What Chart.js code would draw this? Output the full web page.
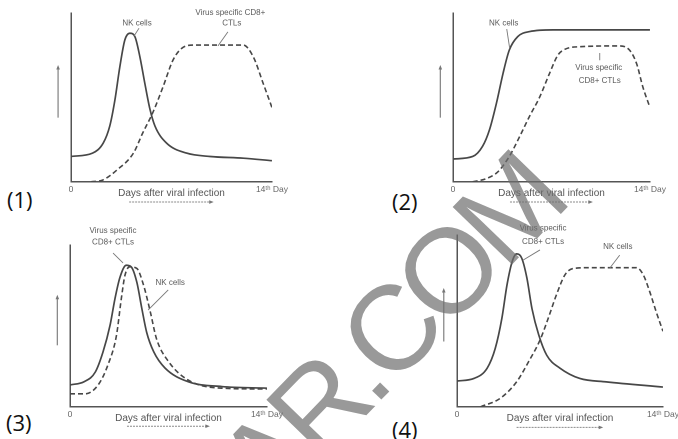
<!DOCTYPE html>
<html><head><meta charset="utf-8">
<script src="https://cdn.jsdelivr.net/npm/chart.js@4.4.1/dist/chart.umd.min.js"></script>
<style>
html,body{margin:0;padding:0;background:#fff;width:678px;height:439px;overflow:hidden;position:relative}
.panel{position:absolute}
.tag{position:absolute;font-family:"Open Sans","Liberation Sans",sans-serif;font-size:22px;color:#111;line-height:1;white-space:nowrap}
svg.wm{position:absolute;left:0;top:0;pointer-events:none}
</style></head><body>
<script>
// ---------- data (x = day, y = relative level 0-100) ----------
const xTickLabels = ['0', '14\u1D57\u02B0 Day'];
const xAxisTitle = 'Days after viral infection';
const panelNames = ['(1)', '(2)', '(3)', '(4)'];
const seriesNames = ['NK cells', 'Virus specific CD8+ CTLs'];

// Panel 1: NK solid, CTL dashed
const p1NK  = [[0,15],[1.5,17],[2.25,23],[2.7,33],[3.05,48],[3.4,68],[3.75,84],[4.1,88],[4.45,86],[4.8,74],[5.15,58],[5.5,43],[5.85,33],[6.65,23],[8.05,17],[9.7,15],[12,14],[14,12.5]];
const p1CTL = [[1.4,0],[2.2,1],[3.2,7],[4.35,17],[5.0,29],[5.7,41],[6.4,56],[7.1,72],[7.7,79],[8.5,81],[10.4,81],[12,81],[12.7,74],[13.4,58],[14,44]];
// Panel 2: NK solid, CTL dashed
const p2NK  = [[0,13.5],[1.4,15],[2.1,21],[2.6,31],[3.1,47],[3.55,64],[4.0,78],[4.6,86],[5.45,89],[7.1,90],[14,90]];
const p2CTL = [[1.4,0],[2.4,2],[3.2,6],[4.0,15],[4.75,27],[5.45,39],[6.15,50],[6.85,64],[7.45,75],[7.95,78.5],[9,80],[11.85,80.5],[12.55,78],[13.05,70],[13.5,56],[14,44]];
// Panel 3: CTL solid, NK dashed
const p3CTL = [[0,13.5],[1.0,15.5],[1.8,21.5],[2.35,34],[2.85,50.5],[3.2,67],[3.55,80],[4.0,87.5],[4.35,86.5],[4.75,77],[5.1,61],[5.45,46],[5.95,34],[6.75,24],[8.4,15.5],[10.8,12.5],[14,11.5]];
const p3NK  = [[0,8],[1.05,8],[2.0,13.5],[2.7,26],[3.3,44],[3.65,67],[3.9,81],[4.25,86.5],[4.75,85.5],[5.2,76],[5.7,59],[6.15,42],[7.0,28],[8.4,16.5],[10.8,11.5],[14,11]];
// Panel 4: CTL solid, NK dashed
const p4CTL = [[0,15],[1.15,16.5],[2.05,22.5],[2.6,34],[3.05,51.5],[3.4,71],[3.75,84.5],[4.05,89],[4.4,86.5],[4.75,75],[5.1,57],[5.55,42],[6.1,30],[7.0,22.5],[8.35,16.5],[10.15,14.5],[14,11.5]];
const p4NK  = [[1.6,0],[2.95,5],[4.05,14.5],[4.85,26],[5.65,39],[6.2,51.5],[6.75,65],[7.35,77],[7.9,80.5],[9.0,81],[12.2,81],[12.65,77],[13.1,67],[13.55,55],[14,44]];

// ---------- layout / decoration ----------
const FONT = '"Liberation Sans", Arial, sans-serif';
const LINE = '#474747';
const panels = [
  {area:[71,13,272,182], tag:[7,188], solid:p1NK, dashed:p1CTL,
   texts:[['NK cells',4.6,94],['Virus specific CD8+',11.1,100],['CTLs',11.2,94]],
   leaders:[[[4.74,91],[4.39,86.4]],[[10.93,88.8],[10.24,80.5]]]},
  {area:[453,13,650,182], tag:[392,190], solid:p2NK, dashed:p2CTL,
   texts:[['NK cells',3.6,94],['Virus specific',10.36,67.4],['CD8+ CTLs',10.43,59.7]],
   leaders:[[[3.82,90.5],[4.03,79]],[[10.43,76.3],[10.43,72]]]},
  {area:[70,245,267,407], tag:[6,411], solid:p3CTL, dashed:p3NK,
   texts:[['Virus specific',3.06,108.7],['CD8+ CTLs',3.06,101.8],['NK cells',7.12,76.5]],
   leaders:[[[3.06,95],[3.77,88.9]],[[6.98,72.2],[5.55,59.8]]]},
  {area:[457,235,663,407], tag:[392,418], solid:p4CTL, dashed:p4NK,
   texts:[['Virus specific',5.85,104],['CD8+ CTLs',5.85,96],['NK cells',10.93,93]],
   leaders:[[[5.64,91.3],[4.49,85.4]],[[11.06,88.3],[10.39,80.8]]]}
];
const arrowY = {day:-0.9, from:38, to:68};
const arrowX = {val:-12, from:4.05, to:9.8};

function pts(a){ return a.map(([x,y]) => ({x, y})); }

function decor(p){
  return {
    id:'decor',
    afterDraw(chart){
      const ctx = chart.ctx, xs = chart.scales.x, ys = chart.scales.y;
      const X = v => xs.getPixelForValue(v), Y = v => ys.getPixelForValue(v);
      ctx.save();
      ctx.strokeStyle = '#8a8a8a'; ctx.fillStyle = '#777';
      const ax = X(arrowY.day), a1 = Y(arrowY.from), a2 = Y(arrowY.to);
      ctx.lineWidth = 1.3;
      ctx.beginPath(); ctx.moveTo(ax, a1); ctx.lineTo(ax, a2); ctx.stroke();
      ctx.beginPath(); ctx.moveTo(ax, a2 - 2); ctx.lineTo(ax - 1.8, a2 + 2.5); ctx.lineTo(ax + 1.8, a2 + 2.5); ctx.closePath(); ctx.fill();
      const by = Y(arrowX.val), b1 = X(arrowX.from), b2 = X(arrowX.to);
      ctx.lineWidth = 1; ctx.setLineDash([2, 1]);
      ctx.beginPath(); ctx.moveTo(b1, by); ctx.lineTo(b2, by); ctx.stroke();
      ctx.setLineDash([]);
      ctx.beginPath(); ctx.moveTo(b2 + 2, by); ctx.lineTo(b2 - 2.5, by - 1.8); ctx.lineTo(b2 - 2.5, by + 1.8); ctx.closePath(); ctx.fill();
      ctx.font = '8px ' + FONT; ctx.fillStyle = '#5a5a5a'; ctx.textAlign = 'center'; ctx.textBaseline = 'middle';
      p.texts.forEach(([t, d, v]) => ctx.fillText(t, X(d), Y(v)));
      ctx.strokeStyle = '#777'; ctx.lineWidth = 0.9;
      p.leaders.forEach(([[d1, v1], [d2, v2]]) => { ctx.beginPath(); ctx.moveTo(X(d1), Y(v1)); ctx.lineTo(X(d2), Y(v2)); ctx.stroke(); });
      ctx.restore();
    }
  };
}

function config(p){
  return {
    type:'line',
    data:{datasets:[
      {label:seriesNames[0], data:pts(p.solid), borderColor:LINE, borderWidth:1.7, pointRadius:0, fill:false, cubicInterpolationMode:'monotone'},
      {label:seriesNames[1], data:pts(p.dashed), borderColor:LINE, borderWidth:1.6, borderDash:[5,3], pointRadius:0, fill:false, cubicInterpolationMode:'monotone'}
    ]},
    options:{
      responsive:false, maintainAspectRatio:false, animation:false, devicePixelRatio:2,
      layout:{padding:{top:22, left:20, bottom:12, right:4}},
      plugins:{legend:{display:false}, tooltip:{enabled:false}},
      scales:{
        x:{type:'linear', min:0, max:14,
           grid:{display:false, drawTicks:false}, border:{display:true, color:'#555', width:1.5},
           afterBuildTicks: s => { s.ticks = [{value:0},{value:14}]; },
           ticks:{font:{size:8.5, family:FONT}, color:'#666', padding:3, maxRotation:0, autoSkip:false,
                  callback: v => v === 0 ? xTickLabels[0] : (v === 14 ? xTickLabels[1] : '')},
           title:{display:true, text:xAxisTitle, color:'#555', font:{size:10, family:FONT}, padding:{top:-11, bottom:0}}},
        y:{min:0, max:100, grid:{display:false, drawTicks:false}, ticks:{display:false}, border:{display:true, color:'#555', width:1.5}}
      }
    },
    plugins:[decor(p)]
  };
}

function makeCanvas(w, h){
  const c = document.createElement('canvas');
  c.width = w; c.height = h; c.style.width = w + 'px'; c.style.height = h + 'px';
  return c;
}

panels.forEach((p, i) => {
  // measure insets of the chart area
  const probe = document.createElement('div'); probe.className = 'panel'; probe.style.left = '-2000px'; probe.style.top = '0px';
  document.body.appendChild(probe);
  const pc = makeCanvas(400, 300); probe.appendChild(pc);
  const m = new Chart(pc, config(p));
  const ca = m.chartArea;
  const insL = ca.left, insT = ca.top, insR = 400 - ca.right, insB = 300 - ca.bottom;
  m.destroy(); probe.remove();

  const [L, T, R, B] = p.area;
  const w = Math.round(R - L + insL + insR), h = Math.round(B - T + insT + insB);
  const div = document.createElement('div'); div.className = 'panel';
  div.style.left = (L - insL) + 'px'; div.style.top = (T - insT) + 'px';
  document.body.appendChild(div);
  const c = makeCanvas(w, h); div.appendChild(c);
  new Chart(c, config(p));

  const tag = document.createElement('div'); tag.className = 'tag';
  tag.style.left = p.tag[0] + 'px'; tag.style.top = p.tag[1] + 'px';
  tag.textContent = panelNames[i];
  document.body.appendChild(tag);
});
</script>
<svg class="wm" width="678" height="439" xmlns="http://www.w3.org/2000/svg">
  <text x="269" y="516" transform="rotate(-46 269 516)" font-family="Liberation Sans, Arial, sans-serif" font-size="120" letter-spacing="-8" fill="rgb(110,110,110)" fill-opacity="0.7">AR.COM</text>
</svg>
</body></html>
